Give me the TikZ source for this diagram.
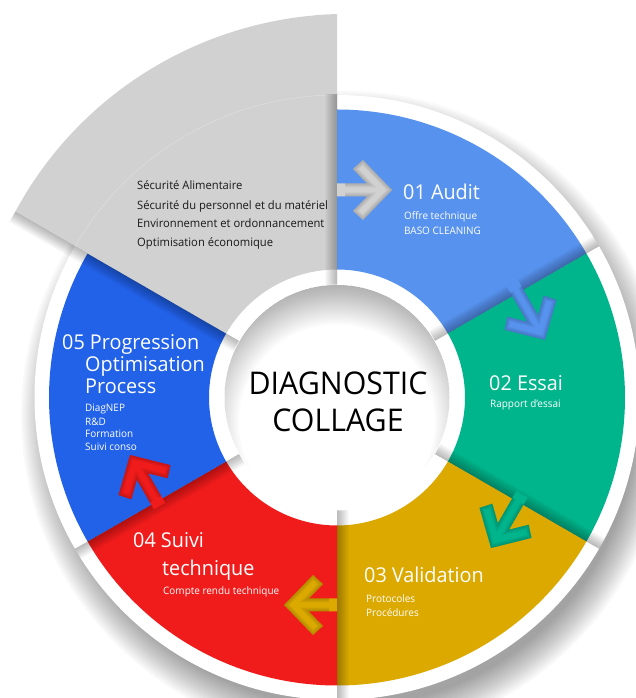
\documentclass[tikz,border=0pt]{standalone}
\usepackage{fontspec}
\setmainfont{Open Sans}[FakeStretch=0.97]
\definecolor{cgray}{HTML}{D1D1D1}
\definecolor{cblue}{HTML}{5793EE}
\definecolor{cgreen}{HTML}{00B58C}
\definecolor{cgold}{HTML}{DBA900}
\definecolor{cred}{HTML}{F01C1C}
\definecolor{cdeep}{HTML}{2262E8}
\newcommand{\sectorfill}[3]{\fill[#1,shift={(337,300.5)}] (#2:128) arc[start angle=#2,end angle=#3,radius=128] -- (#3:288) arc[start angle=#3,end angle=#2,radius=288] -- cycle;}
\newcommand{\edgeshade}[2]{%
  \begin{scope}[shift={(337,300.5)},rotate=#1]
    \clip (113,0) rectangle (#2,14);
    \foreach \w in {2,4,...,24} {\draw[black,opacity=.025,line width=\w bp] (100,0) -- (#2+10,0);}
  \end{scope}}
\newcommand{\chevron}[5]{%
  \begin{scope}[shift={(#1,#2)},rotate=#3]
    \fill[#5] (-#4,6.5) -- (-25,6.5) -- (-39,21) -- (-29,30) -- (0,0) -- (-29,-30) -- (-39,-21) -- (-25,-6.5) -- (-#4,-6.5) -- cycle;
    \begin{scope}
      \clip (-#4,6.5) -- (-25,6.5) -- (-39,21) -- (-29,30) -- (0,0) -- (-29,-30) -- (-39,-21) -- (-25,-6.5) -- (-#4,-6.5) -- cycle;
      \foreach \w in {2,4,6,8} {\draw[black,opacity=.045,line width=\w bp,line join=miter] (-#4+8,6.5) -- (-25,6.5) -- (-39,21) -- (-29,30) -- (0,0) -- (-29,-30) -- (-39,-21) -- (-25,-6.5) -- (-#4+8,-6.5);}
    \end{scope}
  \end{scope}}
\tikzset{
  head/.style={anchor=base west,inner sep=0pt,text=white,font=\fontsize{20.5}{24}\selectfont},
  sub/.style={anchor=base west,inner sep=0pt,text=white,font=\fontsize{10.3}{12}\selectfont},
  graytext/.style={anchor=base west,inner sep=0pt,text=black!90,font=\fontsize{11.6}{13}\selectfont},
  hubtext/.style={anchor=base,inner sep=0pt,text=black,font=\fontsize{31.4}{36}\selectfont}
}
\begin{document}
\begin{tikzpicture}[x=1bp,y=1bp]
\useasboundingbox (0,0) rectangle (636,698);
\clip (0,0) rectangle (636,698);
\fill[white] (0,0) rectangle (636,698);
% soft drop shadow
\foreach \r in {292,294,...,324} {\fill[black,opacity=.022] (345,283) circle[radius=\r];}
% white ring
\fill[white] (337,300.5) circle[radius=302.5];
% sectors
\sectorfill{cblue}{30}{90}
\sectorfill{cgreen}{-30}{30}
\sectorfill{cgold}{-90}{-30}
\sectorfill{cred}{-150}{-90}
\sectorfill{cdeep}{150}{210}
% grey sector, wider than the ring
\fill[cgray,shift={(337,300.5)}] (90:128) -- (90:383.5)
  plot[domain=90:150,samples=40] ({(383.5-(\x-90)/60*12)*cos(\x)},{(383.5-(\x-90)/60*12)*sin(\x)})
  -- (150:128) arc[start angle=150,end angle=90,radius=128] -- cycle;
\draw[white,opacity=.3,line width=.5bp,shift={(337,300.5)}] (90:302.5) arc[start angle=90,end angle=150,radius=302.5];
% shading along the boundaries
\edgeshade{90}{302.5}
\edgeshade{30}{302.5}
\edgeshade{-30}{302.5}
\edgeshade{-90}{302.5}
\edgeshade{-150}{302.5}
\edgeshade{150}{371.5}
% arrows
\chevron{392}{508}{0}{55}{cgray}
\chevron{545}{358}{-60}{66}{cblue}
\chevron{491}{150}{-120}{62}{cgreen}
\chevron{284}{93}{180}{53}{cgold}
\chevron{130}{243}{120}{59}{cred}
% hub with an inner shadow from the top
\fill[white] (337,300.5) circle[radius=113];
\begin{scope}
  \clip (337,300.5) circle[radius=112.5];
  \foreach \r in {98,100,...,142} {\fill[black,opacity=.016,even odd rule] (200,160) rectangle (480,440) (337,275.5) circle[radius=\r];}
\end{scope}
\node[hubtext] (hubA) at (338,303) {DIAGNOSTIC};
\node[hubtext] (hubB) at (338,266) {COLLAGE};
% grey texts
\node[graytext] (g1) at (137,508) {Sécurité Alimentaire};
\node[graytext] (g2) at (137,488.5) {Sécurité du personnel et du matériel};
\node[graytext] (g3) at (137,470) {Environnement et ordonnancement};
\node[graytext] (g4) at (137,451) {Optimisation économique};
% 01
\node[head] (a1) at (403,498.5) {01 Audit};
\node[sub] (a2) at (404,478) {Offre technique};
\node[sub] (a3) at (404,463) {BASO CLEANING};
% 02
\node[head] (b1) at (489,307) {02 Essai};
\node[sub] (b2) at (490,290) {Rapport d’essai};
% 03
\node[head] (c1) at (364,115) {03 Validation};
\node[sub] (c2) at (366,95.5) {Protocoles};
\node[sub] (c3) at (366,81) {Procédures};
% 04
\node[head] (d1) at (133,150) {04 Suivi};
\node[head] (d2) at (162,122) {technique};
\node[sub] (d3) at (163,103) {Compte rendu technique};
% 05
\node[head] (e1) at (62,348.5) {05 Progression};
\node[head] (e2) at (85,326) {Optimisation};
\node[head] (e3) at (85,304) {Process};
\node[sub] (e4) at (85,286) {DiagNEP};
\node[sub] (e5) at (85,272.5) {R\&D};
\node[sub] (e6) at (85,260) {Formation};
\node[sub] (e7) at (85,247.5) {Suivi conso};
\end{tikzpicture}
\end{document}
